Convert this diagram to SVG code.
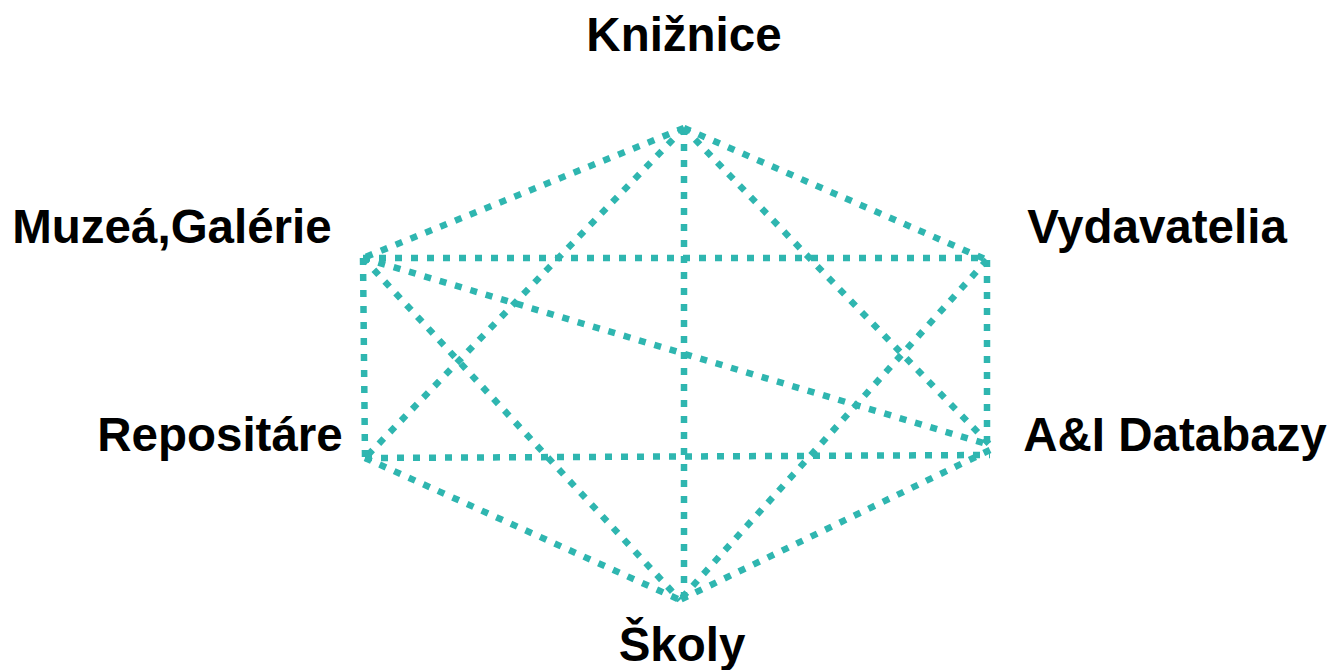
<svg xmlns="http://www.w3.org/2000/svg" width="1333" height="670" viewBox="0 0 1333 670">
<style>
.e{stroke:#2fb6b0;stroke-width:6.5;stroke-dasharray:7 9;fill:none}
.t{font-family:"Liberation Sans",Arial,sans-serif;font-weight:bold;font-size:47.5px;fill:#000}
</style>
<rect width="1333" height="670" fill="#fff"/>
<g id="connectors">
<line class="e" x1="684" y1="128" x2="363" y2="258"/>
<line class="e" x1="684" y1="128" x2="987" y2="260"/>
<line class="e" x1="684" y1="128" x2="684" y2="600"/>
<line class="e" x1="684" y1="128" x2="365" y2="458"/>
<line class="e" x1="684" y1="128" x2="990" y2="445"/>
<line class="e" x1="363" y1="258" x2="987" y2="258"/>
<line class="e" x1="363" y1="258" x2="365" y2="458"/>
<line class="e" x1="363" y1="258" x2="990" y2="445"/>
<line class="e" x1="363" y1="258" x2="680" y2="600"/>
<line class="e" x1="987" y1="260" x2="987" y2="445"/>
<line class="e" x1="987" y1="260" x2="680" y2="600"/>
<line class="e" x1="365" y1="458" x2="990" y2="455"/>
<line class="e" x1="365" y1="458" x2="680" y2="600"/>
<line class="e" x1="990" y1="450" x2="680" y2="600"/>
</g>
<g id="kniznice"><text class="t" x="684" y="51" text-anchor="middle">Knižnice</text></g>
<g id="muzea"><text class="t" x="172" y="243" text-anchor="middle">Muzeá,Galérie</text></g>
<g id="vydavatelia"><text class="t" x="1157" y="243" text-anchor="middle">Vydavatelia</text></g>
<g id="repositare"><text class="t" x="220" y="451" text-anchor="middle">Repositáre</text></g>
<g id="databazy"><text class="t" x="1175" y="451" text-anchor="middle">A&amp;I Databazy</text></g>
<g id="skoly"><text class="t" x="682" y="661" text-anchor="middle">Školy</text></g>
</svg>
